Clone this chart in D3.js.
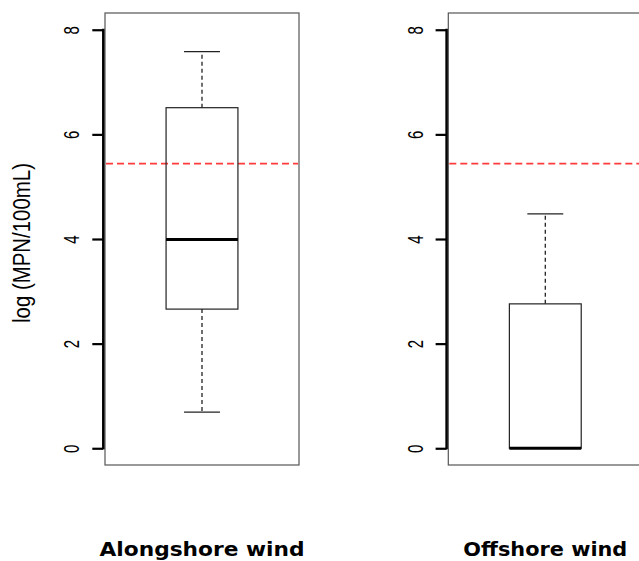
<!DOCTYPE html>
<html>
<head>
<meta charset="utf-8">
<script src="https://cdn.jsdelivr.net/npm/d3@7"></script>
<style>
  html, body { margin: 0; padding: 0; background: #fff; }
  svg { display: block; }
</style>
</head>
<body>
<svg id="chart" width="639" height="561"></svg>
<script>
// Boxplot summaries of log bacterial counts by wind condition
const groups = ["Alongshore wind", "Offshore wind"];
const whiskerLow = [0.69, 0];
const quartile1 = [2.66, 0];
const medians = [3.99, 0];
const quartile3 = [6.51, 2.76];
const whiskerHigh = [7.58, 4.48];
const guideline = 5.44; // log(230) reference level
const yTicks = [0, 2, 4, 6, 8];
const yTitle = "log (MPN/100mL)";

const svg = d3.select("#chart");

const plotTop = 13, plotBottom = 465, panelWidth = 194;
const y = d3.scaleLinear().domain([-0.32, 8.32]).range([plotBottom, plotTop]);

// left edge of each panel's plotting region
const panelLeft = d3.scalePoint().domain(groups).range([105, 448.3]);

groups.forEach((g, i) => {
  const left = panelLeft(g);
  const x = d3.scaleLinear().domain([0.46, 1.54]).range([left, left + panelWidth]);
  const p = svg.append("g");

  // plot frame
  p.append("rect")
    .attr("x", left).attr("y", plotTop)
    .attr("width", panelWidth).attr("height", plotBottom - plotTop)
    .attr("fill", "none").attr("stroke", "#555").attr("stroke-width", 1.2);

  // reference level
  p.append("line")
    .attr("x1", left + 1).attr("x2", left + panelWidth - 1)
    .attr("y1", y(guideline)).attr("y2", y(guideline))
    .attr("stroke", "#ff3b3b").attr("stroke-width", 1.6)
    .attr("stroke-dasharray", "7,4");

  const cx = x(1), half = x(1.2) - x(1), capHalf = x(1.1) - x(1);

  // whiskers (dashed) and staples
  [[quartile3[i], whiskerHigh[i]], [quartile1[i], whiskerLow[i]]].forEach(([a, b]) => {
    if (a === b) return;
    p.append("line")
      .attr("x1", cx).attr("x2", cx).attr("y1", y(a)).attr("y2", y(b))
      .attr("stroke", "#222").attr("stroke-width", 1.3)
      .attr("stroke-dasharray", "4,3");
    p.append("line")
      .attr("x1", cx - capHalf).attr("x2", cx + capHalf).attr("y1", y(b)).attr("y2", y(b))
      .attr("stroke", "#222").attr("stroke-width", 1.3);
  });

  // box
  p.append("rect")
    .attr("x", cx - half).attr("y", y(quartile3[i]))
    .attr("width", 2 * half).attr("height", y(quartile1[i]) - y(quartile3[i]))
    .attr("fill", "none").attr("stroke", "#222").attr("stroke-width", 1.2);

  // median
  p.append("line")
    .attr("x1", cx - half).attr("x2", cx + half)
    .attr("y1", y(medians[i])).attr("y2", y(medians[i]))
    .attr("stroke", "#000").attr("stroke-width", 3);

  // y axis
  const axisX = left - 1.7;
  const ax = p.append("g").attr("transform", `translate(${axisX},0)`)
    .call(d3.axisLeft(y).tickValues(yTicks).tickSize(11).tickFormat(d3.format("d")));
  ax.select(".domain").remove();
  ax.selectAll(".tick line").attr("stroke", "#000").attr("stroke-width", 2.2);
  ax.selectAll(".tick text")
    .attr("x", 0).attr("dy", "0.36em")
    .attr("text-anchor", "middle")
    .attr("transform", "translate(-32,0) rotate(-90) scale(1,1.5)")
    .attr("font-family", "'Liberation Sans', Arial, sans-serif")
    .attr("font-size", 15)
    .attr("fill", "#000");
  p.append("line")
    .attr("x1", axisX).attr("x2", axisX)
    .attr("y1", y(yTicks[yTicks.length - 1]) - 1).attr("y2", y(yTicks[0]) + 1)
    .attr("stroke", "#000").attr("stroke-width", 2.5);

  // group label
  p.append("text")
    .attr("x", cx).attr("y", 556)
    .attr("text-anchor", "middle")
    .attr("font-family", "'DejaVu Sans', Verdana, sans-serif")
    .attr("font-weight", "bold").attr("font-size", 20)
    .attr("textLength", i === 0 ? 205 : 164)
    .attr("lengthAdjust", "spacingAndGlyphs")
    .attr("fill", "#000")
    .text(g);
});

// y axis title
svg.append("text")
  .attr("transform", "translate(22,243) rotate(-90) scale(1,1.1)")
  .attr("text-anchor", "middle").attr("dy", "0.36em")
  .attr("font-family", "'Liberation Sans', Arial, sans-serif")
  .attr("font-size", 21)
  .attr("textLength", 160).attr("lengthAdjust", "spacingAndGlyphs")
  .attr("fill", "#000")
  .text(yTitle);
</script>
</body>
</html>
